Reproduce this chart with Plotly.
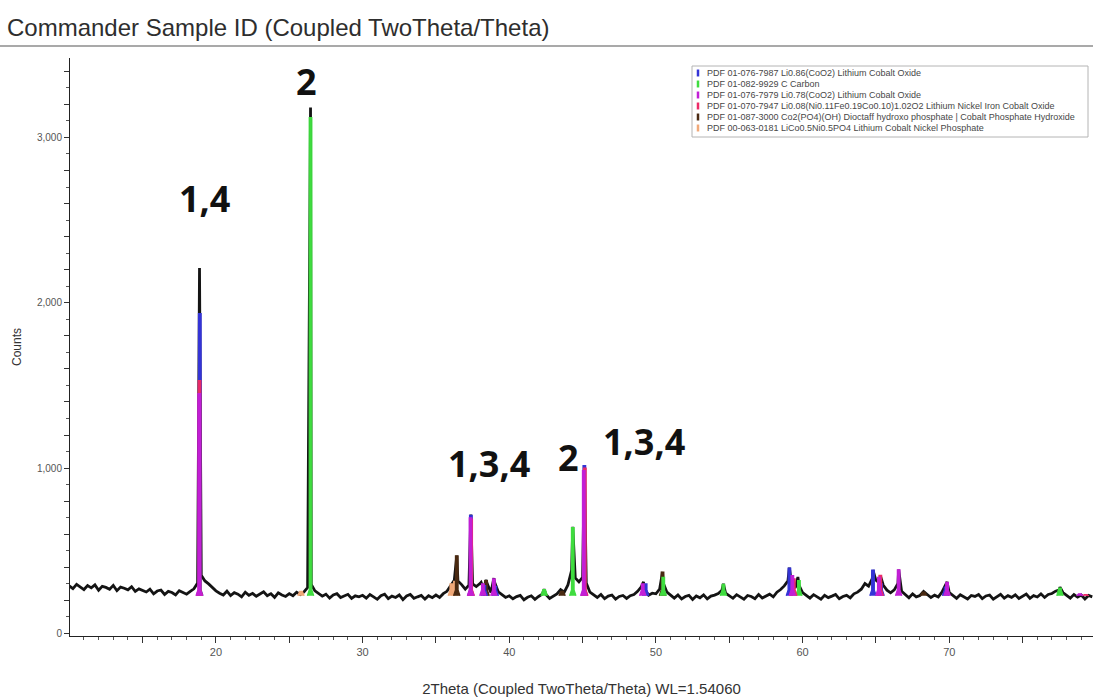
import numpy as np
import plotly.graph_objects as go

# ---------------------------------------------------------------------------
# Measured scan (Cu Kα, WL = 1.54060 Å): counts on a 0.25° 2θ step grid
# ---------------------------------------------------------------------------
scan_start = 10.0
scan_step = 0.25
scan_counts = [
    # 10.00 – 14.75
    288, 271, 297, 283, 266, 290, 276, 294, 262, 285, 279, 268, 291, 259, 281, 274, 264, 283, 255, 270,
    # 15.00 – 19.75
    262, 251, 268, 240, 257, 263, 236, 255, 248, 233, 259, 246, 238, 255, 270, 305, 352, 318, 300, 276,
    # 20.00 – 24.75
    258, 244, 233, 256, 229, 247, 238, 222, 250, 231, 243, 225, 236, 252, 228, 241, 219, 246, 233, 224,
    # 25.00 – 29.75
    241, 228, 250, 236, 252, 278, 296, 258, 244, 226, 238, 214, 233, 241, 218, 230, 237, 212, 228, 222,
    # 30.00 – 34.75
    231, 214, 236, 222, 207, 229, 238, 211, 226, 218, 233, 205, 227, 236, 213, 222, 230, 208, 229, 217,
    # 35.00 – 39.75
    233, 218, 241, 255, 292, 322, 318, 296, 268, 292, 300, 284, 302, 272, 300, 248, 310, 252, 233, 218,
    # 40.00 – 44.75
    228, 210, 223, 231, 204, 219, 228, 207, 224, 238, 236, 212, 226, 240, 266, 250, 294, 382, 336, 312,
    # 45.00 – 49.75
    340, 306, 250, 232, 218, 236, 211, 226, 233, 208, 224, 230, 212, 229, 236, 255, 282, 264, 232, 244,
    # 50.00 – 54.75
    240, 268, 305, 250, 229, 214, 233, 209, 224, 231, 206, 227, 216, 234, 209, 226, 232, 242, 262, 244,
    # 55.00 – 59.75
    228, 213, 235, 219, 207, 230, 224, 211, 236, 215, 229, 238, 222, 250, 266, 288, 318, 300, 276, 292,
    # 60.00 – 64.75
    248, 229, 214, 235, 222, 208, 231, 217, 226, 236, 210, 224, 231, 216, 240, 250, 268, 302, 286, 332,
    # 65.00 – 69.75
    322, 304, 292, 262, 246, 264, 302, 256, 234, 216, 240, 222, 230, 254, 236, 218, 232, 221, 250, 292,
    # 70.00 – 74.75
    248, 229, 213, 234, 220, 209, 230, 224, 236, 211, 227, 233, 208, 225, 237, 214, 229, 219, 234, 212,
    # 75.00 – 79.75
    226, 238, 213, 229, 221, 240, 218, 236, 242, 256, 264, 248, 228, 214, 236, 220, 233, 209, 230, 222,
]

# Peak maxima of the measured scan
peak_2theta = [18.88, 26.45, 36.42, 37.38, 38.08, 38.42, 38.95, 42.38, 44.33, 45.12,
               49.15, 50.45, 54.60, 59.10, 59.68, 64.80, 65.30, 66.55, 69.85, 77.55]
peak_counts = [2210, 3180, 470, 720, 310, 325, 335, 268, 645, 1015,
               312, 372, 300, 398, 342, 383, 352, 386, 312, 280]

# ---------------------------------------------------------------------------
# Reference patterns of the identified phases (PDF cards)
# ---------------------------------------------------------------------------
phase1_label = "PDF 01-076-7987 Li0.86(CoO2) Lithium Cobalt Oxide"
phase1_2theta = [18.90, 37.38, 38.30, 39.05, 45.12, 49.30, 59.10, 64.80, 65.35, 69.75]
phase1_counts = [1935, 715, 290, 285, 1015, 300, 395, 383, 300, 280]

phase2_label = "PDF 01-082-9929 C Carbon"
phase2_2theta = [26.45, 42.38, 44.33, 50.50, 54.60, 59.75, 77.55]
phase2_counts = [3120, 265, 640, 340, 298, 320, 275]

phase3_label = "PDF 01-076-7979 Li0.78(CoO2) Lithium Cobalt Oxide"
phase3_2theta = [18.86, 37.36, 38.20, 38.95, 45.08, 49.10, 59.30, 65.20, 66.55, 69.85, 78.90]
phase3_counts = [1450, 700, 300, 330, 985, 300, 350, 340, 385, 310, 240]

phase4_label = "PDF 01-070-7947 Li0.08(Ni0.11Fe0.19Co0.10)1.02O2 Lithium Nickel Iron Cobalt Oxide"
phase4_2theta = [18.88, 37.40, 45.15, 59.40, 65.30, 79.30]
phase4_counts = [1530, 690, 1000, 330, 352, 235]

phase5_label = "PDF 01-087-3000 Co2(PO4)(OH) Dioctaff hydroxo phosphate | Cobalt Phosphate Hydroxide"
phase5_2theta = [36.42, 38.42, 43.60, 50.45, 68.25]
phase5_counts = [470, 320, 255, 372, 250]

phase6_label = "PDF 00-063-0181 LiCo0.5Ni0.5PO4 Lithium Cobalt Nickel Phosphate"
phase6_2theta = [25.80, 36.05, 36.30]
phase6_counts = [255, 300, 315]

# Peak-group labels (phase numbers)
group_text = ["1,4", "2", "1,3,4", "2", "1,3,4"]
group_2theta = [19.25, 26.15, 38.65, 44.05, 49.20]
group_counts = [2630, 3335, 1030, 1065, 1160]

# ---------------------------------------------------------------------------
# Styling
# ---------------------------------------------------------------------------
phase_colors = ["#3434d6", "#3fdc3f", "#c21fd6", "#ec2a66", "#4a2a12", "#f0a878"]
phase_draw_order = [5, 4, 0, 1, 3, 2]      # indices into the phase lists
stick_floor = 228                           # counts where reference peaks start
stem_halfwidth = 0.09                       # degrees 2θ
flare_halfwidth = 0.22                      # degrees 2θ at the peak foot
flare_height = 35                           # counts

W, H = 1093, 698
ML, MR, MT, MB = 70, 0, 58, 62
X_RANGE = [10.05, 79.8]
Y_RANGE = [-15, 3480]

phases = [
    (phase1_label, phase1_2theta, phase1_counts),
    (phase2_label, phase2_2theta, phase2_counts),
    (phase3_label, phase3_2theta, phase3_counts),
    (phase4_label, phase4_2theta, phase4_counts),
    (phase5_label, phase5_2theta, phase5_counts),
    (phase6_label, phase6_2theta, phase6_counts),
]

# Merge the step grid with the peak maxima into one ordered profile
grid_2theta = scan_start + scan_step * np.arange(len(scan_counts))
all_x = np.concatenate([grid_2theta, np.array(peak_2theta)])
all_y = np.concatenate([np.array(scan_counts, float), np.array(peak_counts, float)])
order = np.argsort(all_x, kind="stable")
meas_x, meas_y = all_x[order], all_y[order]

fig = go.Figure()

fig.add_trace(go.Scatter(
    x=meas_x, y=meas_y, mode="lines",
    line=dict(color="#141414", width=2.8),
    showlegend=False, hoverinfo="skip",
))

for idx in phase_draw_order:
    label, pos, cnt = phases[idx]
    xs, ys = [], []
    for p, c in zip(pos, cnt):
        knee = min(stick_floor + flare_height, c)
        xs += [p - flare_halfwidth, p - stem_halfwidth, p - stem_halfwidth,
               p + stem_halfwidth, p + stem_halfwidth, p + flare_halfwidth, None]
        ys += [stick_floor, knee, c, c, knee, stick_floor, None]
    fig.add_trace(go.Scatter(
        x=xs, y=ys, mode="lines", fill="toself",
        fillcolor=phase_colors[idx],
        line=dict(color=phase_colors[idx], width=1.2),
        name=label, showlegend=False, hoverinfo="skip",
    ))

# Phase-number labels over the peak groups
for t, gx, gy in zip(group_text, group_2theta, group_counts):
    fig.add_annotation(
        x=gx, y=gy, xref="x", yref="y", text=t, showarrow=False,
        font=dict(family="Open Sans", size=36, color="#111111", weight="bold"),
        xanchor="center", yanchor="middle",
    )


def px_to_paper_x(px):
    return (px - ML) / (W - ML - MR)


def px_to_paper_y(py):
    return (H - MB - py) / (H - MT - MB)


# Legend box listing the reference cards
lx0, lx1, ly0, ly1 = 692, 1088, 66, 137
fig.add_shape(
    type="rect", xref="paper", yref="paper",
    x0=px_to_paper_x(lx0), x1=px_to_paper_x(lx1),
    y0=px_to_paper_y(ly1), y1=px_to_paper_y(ly0),
    line=dict(color="#b4b4b4", width=1), fillcolor="white", layer="above",
)
row_y = [73, 84, 95, 106, 117, 128]
for i, (label, _, _) in enumerate(phases):
    yy = px_to_paper_y(row_y[i])
    fig.add_shape(
        type="line", xref="paper", yref="paper",
        x0=px_to_paper_x(698), x1=px_to_paper_x(698),
        y0=yy - 0.006, y1=yy + 0.006,
        line=dict(color=phase_colors[i], width=2.5), layer="above",
    )
    fig.add_annotation(
        x=px_to_paper_x(705), y=yy, xref="paper", yref="paper",
        text=label, showarrow=False, xanchor="left", yanchor="middle",
        font=dict(family="Liberation Sans", size=9, color="#474747"),
    )

# Rule under the page title
fig.add_shape(
    type="line", xref="paper", yref="paper",
    x0=px_to_paper_x(0), x1=1.0,
    y0=px_to_paper_y(46), y1=px_to_paper_y(46),
    line=dict(color="#8c8c8c", width=1.6),
)

fig.update_layout(
    width=W, height=H,
    margin=dict(l=ML, r=MR, t=MT, b=MB),
    paper_bgcolor="white", plot_bgcolor="white",
    showlegend=False,
    title=dict(
        text="Commander Sample ID (Coupled TwoTheta/Theta)",
        x=7 / W, xanchor="left", xref="container",
        y=1 - 28 / H, yanchor="middle", yref="container",
        font=dict(family="Liberation Sans", size=24, color="#2e2e2e"),
    ),
    font=dict(family="Liberation Sans", color="#444444"),
)

x_major = [15, 20, 25, 30, 35, 40, 45, 50, 55, 60, 65, 70, 75]
x_major_text = ["", "20", "", "30", "", "40", "", "50", "", "60", "", "70", ""]
fig.update_xaxes(
    range=X_RANGE, showgrid=False, zeroline=False,
    showline=True, linecolor="#222222", linewidth=1,
    tickmode="array", tickvals=x_major, ticktext=x_major_text,
    ticks="outside", ticklen=6, tickcolor="#333333", tickwidth=1,
    tickfont=dict(size=11, color="#555555"),
    minor=dict(dtick=1, tick0=0, ticks="outside", ticklen=3, tickcolor="#555555", showgrid=False),
    title=dict(text="2Theta (Coupled TwoTheta/Theta) WL=1.54060", standoff=26,
               font=dict(size=15, color="#333333")),
)

y_major = list(range(0, 3401, 200))
y_major_text = [f"{v:,}" if v % 1000 == 0 else "" for v in y_major]
fig.update_yaxes(
    range=Y_RANGE, showgrid=False, zeroline=False,
    showline=True, linecolor="#222222", linewidth=1,
    tickmode="array", tickvals=y_major, ticktext=y_major_text,
    ticks="outside", ticklen=5, tickcolor="#333333", tickwidth=1,
    tickfont=dict(size=10, color="#555555"),
    minor=dict(dtick=100, tick0=0, ticks="outside", ticklen=3, tickcolor="#555555", showgrid=False),
    title=dict(text="Counts", standoff=12, font=dict(size=12, color="#333333")),
)

fig.write_html("out.html")
